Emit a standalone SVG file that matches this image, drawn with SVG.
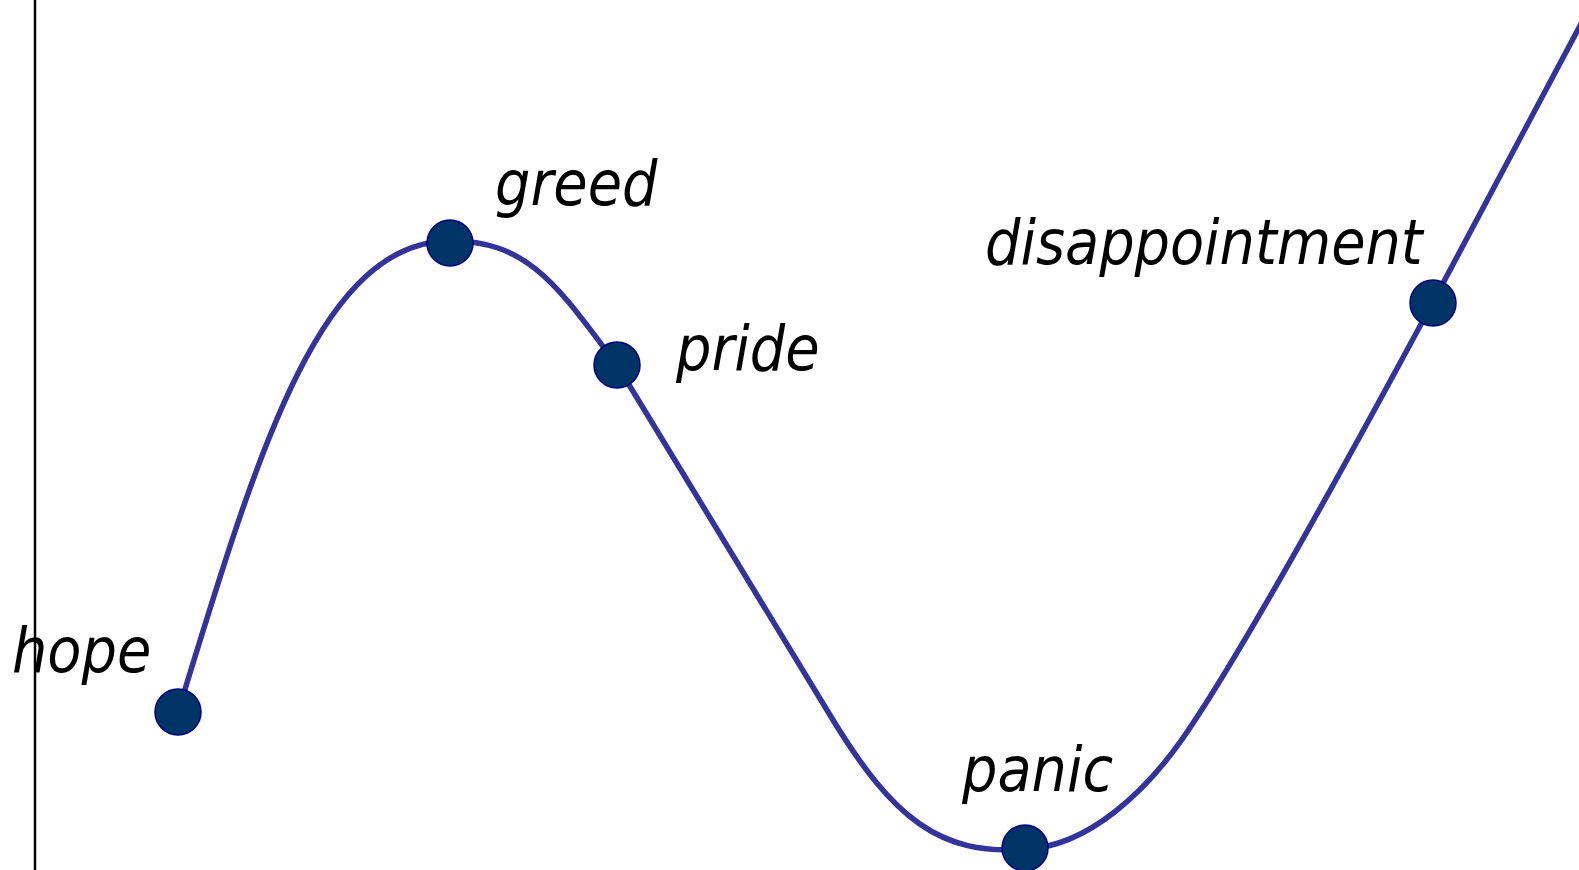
<svg xmlns="http://www.w3.org/2000/svg" width="1579" height="870" viewBox="0 0 1579 870">
<style>
.lbl{font-family:"DejaVu Sans Condensed","DejaVu Sans",sans-serif;font-stretch:condensed;font-style:italic;font-size:62px;fill:#000}
.dot{fill:#003366;stroke:#000080;stroke-width:1.5}
.curve{fill:none;stroke:#333399;stroke-width:5.5;stroke-linejoin:round}
</style>
<rect width="1579" height="870" fill="#fff"/>
<line x1="35" y1="0" x2="35" y2="870" stroke="#000" stroke-width="2.5"/>
<g id="connectors">
<path class="curve" d="M178,712 C255,462 318,241 450,241 C530,240 560,290 617,365 L833,720 C893,818 940,856 1025,849 C1090,847 1148,788 1183,738 C1243,652 1363,432 1433,302 L1590,7"/>
</g>
<g id="hope"><circle class="dot" cx="178" cy="712" r="23"/><text class="lbl" x="12" y="672">hope</text></g>
<g id="greed"><circle class="dot" cx="450" cy="243" r="23"/><text class="lbl" x="495" y="205">greed</text></g>
<g id="pride"><circle class="dot" cx="617" cy="365" r="23"/><text class="lbl" x="676" y="370">pride</text></g>
<g id="panic"><circle class="dot" cx="1025" cy="848" r="23"/><text class="lbl" x="962" y="791">panic</text></g>
<g id="disappointment"><circle class="dot" cx="1433" cy="303" r="23"/><text class="lbl" x="985" y="264">disappointment</text></g>
</svg>
